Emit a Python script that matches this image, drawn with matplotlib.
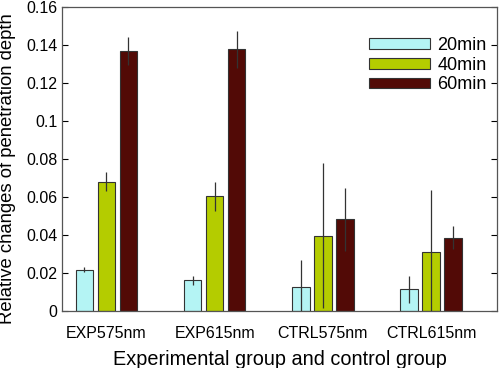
import matplotlib
matplotlib.use("Agg")
import matplotlib.pyplot as plt
import numpy as np

plt.rcParams["font.family"] = ["Liberation Sans", "DejaVu Sans"]

groups = ["EXP575nm", "EXP615nm", "CTRL575nm", "CTRL615nm"]
series = ["20min", "40min", "60min"]
means = {
    "20min": [0.0218, 0.0162, 0.0127, 0.0114],
    "40min": [0.0680, 0.0603, 0.0397, 0.0310],
    "60min": [0.1370, 0.1378, 0.0482, 0.0385],
}
errors = {
    "20min": [0.0015, 0.0023, 0.0139, 0.0072],
    "40min": [0.0050, 0.0077, 0.0380, 0.0329],
    "60min": [0.0073, 0.0098, 0.0165, 0.0060],
}
colors = {"20min": "#b4f4f4", "40min": "#b4cc00", "60min": "#520a06"}

fig = plt.figure(figsize=(5, 3.68), dpi=100)
ax = fig.add_axes([0.124, 0.155, 0.870, 0.826])

x = np.arange(1, len(groups) + 1)
width = 0.163
step = 0.203
for i, s in enumerate(series):
    pos = x + (i - 1) * step
    ax.bar(pos, means[s], width, color=colors[s], edgecolor="#333333",
           linewidth=0.8, label=s, zorder=2)
    ax.errorbar(pos, means[s], yerr=errors[s], fmt="none", ecolor="#333333",
                elinewidth=0.9, capsize=0, zorder=3)

ax.set_xlim(0.59, 4.61)
ax.set_ylim(0, 0.16)
ax.set_xticks(x)
ax.set_xticklabels(groups)
ax.set_yticks(np.arange(0, 0.161, 0.02))
ax.set_yticklabels(["0", "0.02", "0.04", "0.06", "0.08", "0.1", "0.12", "0.14", "0.16"])
ax.tick_params(axis="y", direction="in", right=True, length=4, labelsize=11.5)
ax.tick_params(axis="x", length=0, labelsize=11.5, pad=11)
for sp in ax.spines.values():
    sp.set_color("#555555")
    sp.set_linewidth(0.9)

ax.set_xlabel("Experimental group and control group", fontsize=14.3, labelpad=6)
ax.set_ylabel("Relative changes of penetration depth", fontsize=13.3)
ax.yaxis.set_label_coords(-0.106, 0.468)

ax.legend(loc="upper right", bbox_to_anchor=(0.993, 0.925), frameon=False,
          fontsize=13, handlelength=3.4, handleheight=0.55, labelspacing=0.15,
          handletextpad=0.4, borderaxespad=0)

fig.savefig("out.png", dpi=100)
